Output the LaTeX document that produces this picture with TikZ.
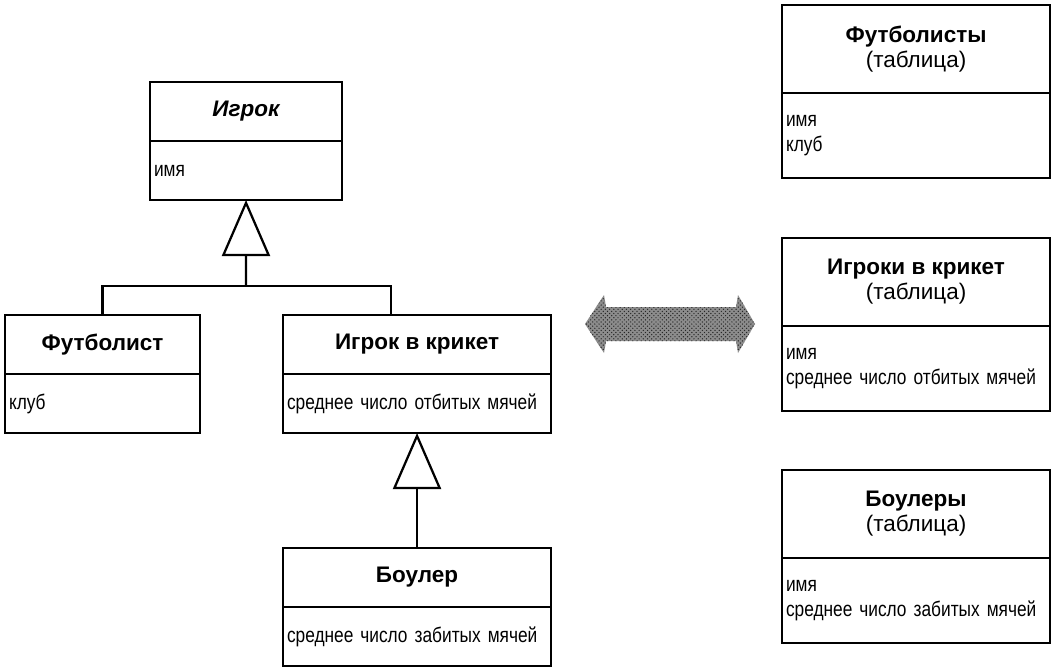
\documentclass[tikz,border=0pt]{standalone}
\usepackage{fontspec}
\setmainfont[FakeStretch=0.82]{Liberation Sans}
\newfontfamily\headfont{Liberation Sans}
\usetikzlibrary{positioning, arrows.meta, patterns}

\begin{document}
\begin{tikzpicture}[x=0.025cm, y=-0.025cm, line width=1.6pt,
    head/.style={draw, minimum height=1.475cm, inner sep=0pt, outer sep=0pt, align=center, font=\headfont\fontsize{16}{17.8}\selectfont\bfseries},
    body/.style={draw, minimum height=1.475cm, inner xsep=0.1cm, inner ysep=0pt, outer sep=0pt, align=left, font=\fontsize{15}{17.8}\selectfont},
    gen/.style={-{Triangle[open, length=1.4cm, width=1.2cm]}}]

    \useasboundingbox (0,0) rectangle (1055,670);

    % Классы
    \node[head, font=\headfont\fontsize{16}{17.8}\selectfont\bfseries\itshape, minimum width=4.8cm, anchor=north west] (igrok) at (150,82) {Игрок};
    \node[body, text width=4.6cm, below=0pt of igrok] (igrok-attr) {имя};

    \node[head, minimum width=4.875cm, anchor=north west] (fut) at (5,315) {Футболист};
    \node[body, text width=4.675cm, below=0pt of fut] (fut-attr) {клуб};

    \node[head, minimum width=6.7cm, anchor=north west] (ik) at (283,315) {Игрок в крикет};
    \node[body, text width=6.5cm, below=0pt of ik] (ik-attr) {среднее число отбитых мячей};

    \node[head, minimum width=6.7cm, anchor=north west] (boul) at (283,548) {Боулер};
    \node[body, text width=6.5cm, below=0pt of boul] (boul-attr) {среднее число забитых мячей};

    % Наследование
    \coordinate (fork) at (246,286);
    \coordinate (ik-in) at (391,315);
    \draw (fut.north) |- (fork) -| (ik-in);
    \draw[gen] (fork) -- (igrok-attr.south);
    \draw[gen] (boul.north) -- (ik-attr.south);

    % Стрелка
    \path[preaction={fill=black!45}, pattern=crosshatch dots, pattern color=black!85]
        (585,324) -- (604,295) -- (606,307) -- (736,307) -- (738,295) -- (755,324)
        -- (738,353) -- (736,341) -- (606,341) -- (604,353) -- cycle;

    % Таблицы
    \node[head, minimum width=6.7cm, minimum height=2.2cm, anchor=north west] (tfut) at (782,5) {Футболисты\\\textmd{(таблица)}};
    \node[body, text width=6.5cm, minimum height=2.125cm, below=0pt of tfut] (tfut-attr) {имя\\клуб};

    \node[head, minimum width=6.7cm, minimum height=2.2cm, anchor=north west] (tik) at (782,238) {Игроки в крикет\\\textmd{(таблица)}};
    \node[body, text width=6.5cm, minimum height=2.125cm, below=0pt of tik] (tik-attr) {имя\\среднее число отбитых мячей};

    \node[head, minimum width=6.7cm, minimum height=2.2cm, anchor=north west] (tboul) at (782,470) {Боулеры\\\textmd{(таблица)}};
    \node[body, text width=6.5cm, minimum height=2.125cm, below=0pt of tboul] (tboul-attr) {имя\\среднее число забитых мячей};
\end{tikzpicture}
\end{document}
